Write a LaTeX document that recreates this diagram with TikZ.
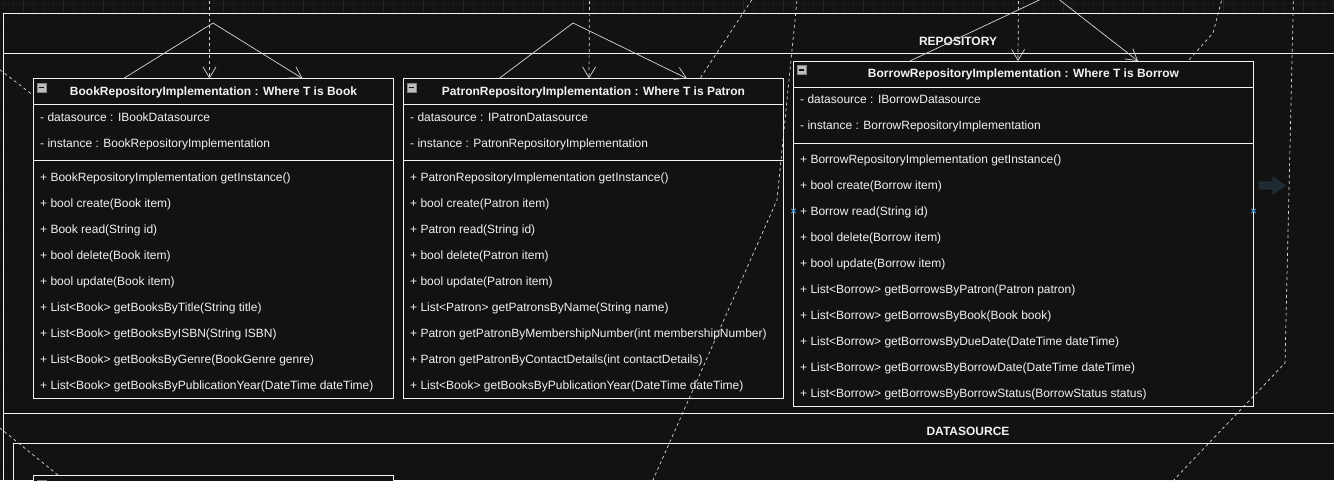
\documentclass[tikz,border=0pt]{standalone}
\usepackage{fontspec}
\setmainfont{Liberation Sans}
\usetikzlibrary{arrows.meta,calc,positioning}
\definecolor{CanvasBg}{HTML}{121212}
\definecolor{GridMinor}{HTML}{1A1A1A}
\definecolor{GridMajor}{HTML}{232323}
\definecolor{InkWhite}{HTML}{F2F2F2}
\definecolor{EdgeGray}{HTML}{D6D6D6}
\definecolor{IconGray}{HTML}{BDBDBD}
\definecolor{HoverBlue}{HTML}{3A9FE6}
\definecolor{GhostFill}{HTML}{1E2A31}
\definecolor{GhostLine}{HTML}{26343C}
\tikzset{
  classbox/.style={draw=InkWhite,fill=CanvasBg,line width=1pt,anchor=north west,inner sep=0pt,outer sep=0pt},
  classtitle/.style={text=InkWhite,anchor=base,inner sep=0pt,font=\bfseries\fontsize{12}{14}\selectfont},
  member/.style={text=InkWhite,anchor=base west,inner sep=0pt,font=\fontsize{12}{14}\selectfont},
  lanetitle/.style={text=InkWhite,anchor=base,inner sep=0pt,font=\bfseries\fontsize{12}{14}\selectfont},
  lane/.style={draw=InkWhite,line width=1pt},
  rule/.style={draw=InkWhite,line width=.9pt},
  edge/.style={draw=EdgeGray,line width=.7pt},
  dep/.style={edge,dash pattern=on 3pt off 3pt},
  openhead/.style={-{Straight Barb[length=11pt,width=13pt]}},
  foldicon/.style={fill=IconGray,draw=IconGray!70!black,line width=.5pt,minimum size=9pt,inner sep=0pt,
    path picture={\draw[CanvasBg,line width=1.6pt]
      ($(path picture bounding box.west)+(1.8pt,0)$) -- ($(path picture bounding box.east)+(-1.8pt,0)$);}}
}
\begin{document}
\begin{tikzpicture}[x=1pt,y=-1pt]
  \clip (0,0) rectangle (1334,480);
  % canvas and grid
  \fill[CanvasBg] (0,0) rectangle (1334,480);
  \foreach \g in {3,13,...,1333} \draw[GridMinor,line width=.5pt] (\g,0) -- (\g,480);
  \foreach \g in {3,13,...,473} \draw[GridMinor,line width=.5pt] (0,\g) -- (1334,\g);
  \foreach \g in {23,63,...,1343} \draw[GridMajor,line width=.6pt] (\g,0) -- (\g,480);
  % lanes
  \fill[CanvasBg] (3.5,13) rectangle (1334,480);
  \draw[lane] (1334,13) -| (3.5,480);
  \draw[lane] (3.5,53) -- (1334,53);
  \draw[lane] (3.5,413) -- (1334,413);
  \draw[lane] (1334,443) -| (13.5,480);
  \node[lanetitle] (repolane) at (958,45.3) {REPOSITORY};
  \node[lanetitle] (dslane) at (968,435.3) {DATASOURCE};

  % BookRepositoryImplementation
  \node[classbox,minimum width=360pt,minimum height=320pt] (book) at (33.5,78.5) {};
  \draw[rule] (33.5,104.5) -- (393.5,104.5);
  \draw[rule] (33.5,160.5) -- (393.5,160.5);
  \node[foldicon] (bookfold) at (41.5,87.5) {};
  \node[classtitle] (booktitle) at (213.5,95.3) {BookRepositoryImplementation : Where T is Book};
  \foreach \t [count=\i from 0] in {{- datasource : IBookDatasource},{- instance : BookRepositoryImplementation}}
    \node[member] (ba\i) at (40,{121.3+26*\i}) {\t};
  \foreach \t [count=\i from 0] in {{+ BookRepositoryImplementation getInstance()},{+ bool create(Book item)},
      {+ Book read(String id)},{+ bool delete(Book item)},{+ bool update(Book item)},
      {+ List<Book> getBooksByTitle(String title)},{+ List<Book> getBooksByISBN(String ISBN)},
      {+ List<Book> getBooksByGenre(BookGenre genre)},{+ List<Book> getBooksByPublicationYear(DateTime dateTime)}}
    \node[member] (bm\i) at (40,{181.3+26*\i}) {\t};

  % PatronRepositoryImplementation
  \node[classbox,minimum width=380pt,minimum height=320pt] (patron) at (403.5,78.5) {};
  \draw[rule] (403.5,104.5) -- (783.5,104.5);
  \draw[rule] (403.5,160.5) -- (783.5,160.5);
  \node[foldicon] (patronfold) at (411.5,87.5) {};
  \node[classtitle] (patrontitle) at (593.5,95.3) {PatronRepositoryImplementation : Where T is Patron};
  \foreach \t [count=\i from 0] in {{- datasource : IPatronDatasource},{- instance : PatronRepositoryImplementation}}
    \node[member] (pa\i) at (410,{121.3+26*\i}) {\t};
  \foreach \t [count=\i from 0] in {{+ PatronRepositoryImplementation getInstance()},{+ bool create(Patron item)},
      {+ Patron read(String id)},{+ bool delete(Patron item)},{+ bool update(Patron item)},
      {+ List<Patron> getPatronsByName(String name)},{+ Patron getPatronByMembershipNumber(int membershipNumber)},
      {+ Patron getPatronByContactDetails(int contactDetails)},{+ List<Book> getBooksByPublicationYear(DateTime dateTime)}}
    \node[member] (pm\i) at (410,{181.3+26*\i}) {\t};

  % BorrowRepositoryImplementation
  \node[classbox,minimum width=460pt,minimum height=345pt] (borrow) at (793.5,61) {};
  \draw[rule] (793.5,87) -- (1253.5,87);
  \draw[rule] (793.5,143) -- (1253.5,143);
  \node[foldicon] (borrowfold) at (801.5,70) {};
  \node[classtitle] (borrowtitle) at (1023.5,77.8) {BorrowRepositoryImplementation : Where T is Borrow};
  \foreach \t [count=\i from 0] in {{- datasource : IBorrowDatasource},{- instance : BorrowRepositoryImplementation}}
    \node[member] (wa\i) at (800,{103.3+26*\i}) {\t};
  \foreach \t [count=\i from 0] in {{+ BorrowRepositoryImplementation getInstance()},{+ bool create(Borrow item)},
      {+ Borrow read(String id)},{+ bool delete(Borrow item)},{+ bool update(Borrow item)},
      {+ List<Borrow> getBorrowsByPatron(Patron patron)},{+ List<Borrow> getBorrowsByBook(Book book)},
      {+ List<Borrow> getBorrowsByDueDate(DateTime dateTime)},{+ List<Borrow> getBorrowsByBorrowDate(DateTime dateTime)},
      {+ List<Borrow> getBorrowsByBorrowStatus(BorrowStatus status)}}
    \node[member] (wm\i) at (800,{163.3+26*\i}) {\t};

  % datasource class (cut off)
  \node[classbox,minimum width=360pt,minimum height=60pt] (bookds) at (33.5,475.5) {};
  \node[foldicon] (bookdsfold) at (41.5,484.5) {};

  % connectors
  \coordinate (bookapex) at (213,23);
  \coordinate (booksrc) at (209.5,-5);
  \draw[edge] (bookapex) -- ([xshift=90pt]book.north west);
  \draw[edge,openhead] (bookapex) -- ([xshift=269pt]book.north west);
  \draw[dep,openhead] (booksrc) -- ([xshift=176pt]book.north west);
  \coordinate (patronapex) at (573,23);
  \coordinate (patronsrc) at (589.5,-5);
  \coordinate (patronfar) at (755,-5);
  \draw[edge] (patronapex) -- ([xshift=95.5pt]patron.north west);
  \draw[edge,openhead] (patronapex) -- ([xshift=283.5pt]patron.north west);
  \draw[dep,openhead] (patronsrc) -- ([xshift=185.5pt]patron.north west);
  \draw[dep] (patronfar) -- ([xshift=296.5pt]patron.north west);
  \coordinate (borrowapex) at (1052,-6);
  \coordinate (borrowsrc) at (1018.5,-5);
  \coordinate (borrowbend) at (1213,33);
  \draw[edge] (borrowapex) -- ([xshift=116.5pt]borrow.north west);
  \draw[edge,openhead] (borrowapex) -- ([xshift=344.5pt]borrow.north west);
  \draw[dep,openhead] (borrowsrc) -- ([xshift=224.5pt]borrow.north west);
  \draw[dep] (1223,-5) -- (borrowbend) -- ([xshift=394.5pt]borrow.north west);
  \draw[dep] (797.5,-5) -- (777,200) -- (653,480) -- (648,492);
  \draw[dep] (1293.5,-5) -- (1285,363) -- (1170,484);
  \draw[dep] (-5,66) -- ([yshift=-17pt]book.north west);
  \draw[dep] (-5,424) -- ([xshift=25pt]bookds.north west);

  % hover marks
  \foreach \s in {borrow.north west,borrow.north east}
    \draw[HoverBlue,line width=1pt] ([yshift=-150pt]\s) ++(-2.2,-2.2) -- ++(4.4,4.4) ++(0,-4.4) -- ++(-4.4,4.4);
  \draw[GhostLine,fill=GhostFill,line width=.6pt] (1259,182) -- (1273,182) -- (1273,177) -- (1285,185.5)
    -- (1273,194) -- (1273,189) -- (1259,189) -- cycle;
\end{tikzpicture}
\end{document}
